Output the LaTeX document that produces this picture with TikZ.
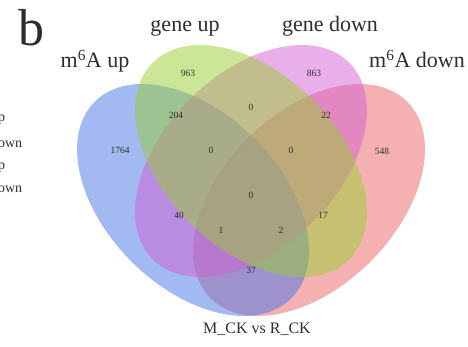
\documentclass[tikz,border=0pt]{standalone}
\usepackage{fontspec}
\setmainfont{Liberation Serif}
\definecolor{cblue}{RGB}{70,115,230}
\definecolor{cgreen}{RGB}{154,205,50}
\definecolor{cpink}{RGB}{210,95,210}
\definecolor{cred}{RGB}{236,100,100}
\definecolor{ink}{RGB}{45,45,45}
\begin{document}
\begin{tikzpicture}[x=1pt,y=1pt,
  venn/.style={fill opacity=0.5},
  num/.style={font=\fontsize{9.5}{11}\selectfont, text=ink, inner sep=0pt},
  lab/.style={font=\fontsize{22}{26}\selectfont, text=ink, anchor=base, inner sep=0pt},
  leg/.style={font=\fontsize{14}{16}\selectfont, text=ink, anchor=base west, inner sep=0pt}]
\useasboundingbox (0,0) rectangle (468,346);
\clip (0,0) rectangle (468,346);
% ellipses
\fill[venn, cred]   (309,146) ellipse [x radius=139, y radius=87, rotate=45];
\fill[venn, cblue]  (193,146) ellipse [x radius=139, y radius=87, rotate=-45];
\fill[venn, cpink]  (251,185) ellipse [x radius=139, y radius=87, rotate=45];
\fill[venn, cgreen] (251,185) ellipse [x radius=139, y radius=87, rotate=-45];
% region counts
\node[num] (n963)  at (188,273) {963};
\node[num] (n863)  at (314,273) {863};
\node[num] (n204)  at (176,231) {204};
\node[num] (n22)   at (326,231) {22};
\node[num] (n1764) at (120,196) {1764};
\node[num] (n548)  at (382,195) {548};
\node[num] (n0t)   at (251,239) {0};
\node[num] (n0l)   at (211,196) {0};
\node[num] (n0r)   at (291,196) {0};
\node[num] (n0c)   at (251,151) {0};
\node[num] (n40)   at (179,131) {40};
\node[num] (n17)   at (323,131) {17};
\node[num] (n1)    at (221,116) {1};
\node[num] (n2)    at (281,116) {2};
\node[num] (n37)   at (251,76)  {37};
% set labels
\node[lab] (lmu) at (95,278)  {m\textsuperscript{6}A up};
\node[lab] (lgu) at (185,314) {gene up};
\node[lab] (lgd) at (330,314) {gene down};
\node[lab] (lmd) at (417,278) {m\textsuperscript{6}A down};
\node[font=\fontsize{16}{19}\selectfont, text=ink, anchor=base, inner sep=0pt] (title) at (257,13) {M\_CK vs R\_CK};
\node[font=\fontsize{52}{60}\selectfont, text=ink, anchor=base, inner sep=0pt] (b) at (31,300) {b};
% cut-off legend at the left edge
\node[leg] (g1) at (-39,225) {m\textsuperscript{6}A up};
\node[leg] (g2) at (-39,199) {m\textsuperscript{6}A down};
\node[leg] (g3) at (-39,177) {gene up};
\node[leg] (g4) at (-39,154) {gene down};
\end{tikzpicture}
\end{document}
